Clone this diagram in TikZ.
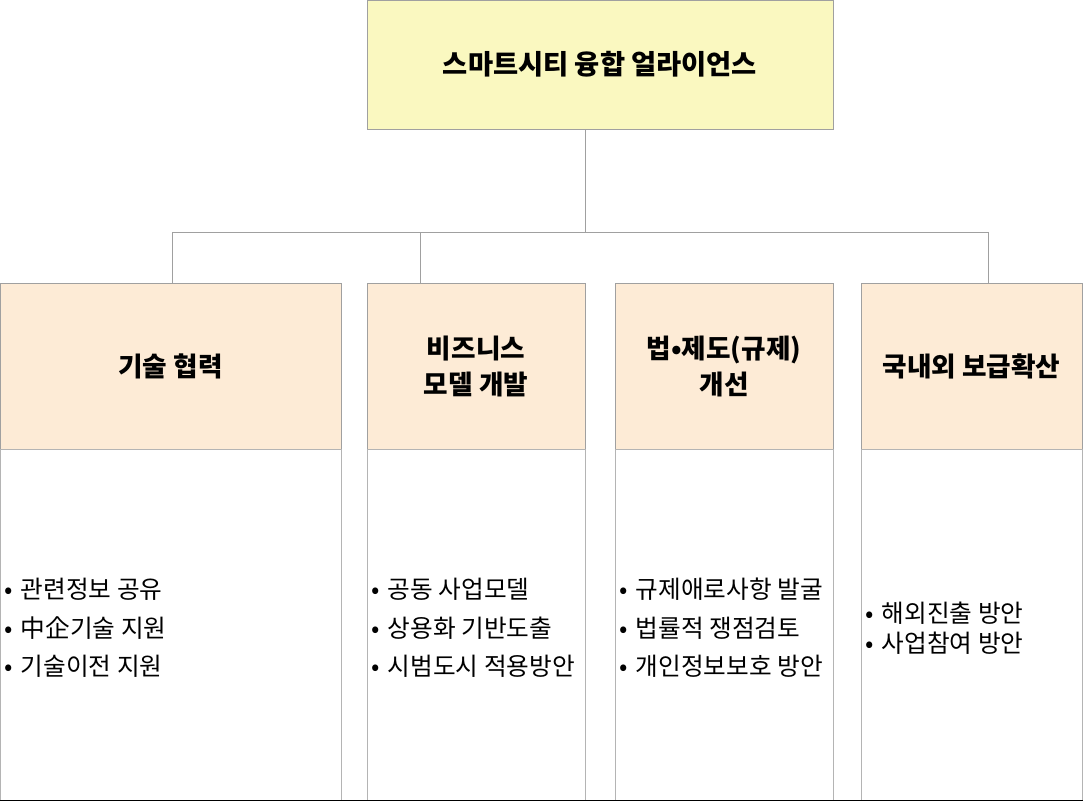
\documentclass[tikz,border=0pt]{standalone}
\usepackage{fontspec}
\setmainfont{Noto Sans CJK KR}
\definecolor{titlefill}{HTML}{FAF8C0}
\definecolor{headfill}{HTML}{FDEBD6}
\definecolor{boxline}{HTML}{A0A0A0}
\definecolor{bodyline}{HTML}{B4B4B4}
\definecolor{baseline}{HTML}{808080}

\def \itm {•\hspace{6pt}}

\tikzset{
  titlebox/.style={draw=boxline, fill=titlefill, line width=.75pt, minimum width=349.5pt, minimum height=96.75pt, font=\fontsize{20.5}{24}\selectfont\bfseries},
  headbox/.style={draw=boxline, fill=headfill, line width=.75pt, minimum height=124.5pt, align=center, font=\fontsize{20}{27}\selectfont\bfseries},
  bodybox/.style={draw=bodyline, line width=.75pt, minimum height=263.25pt},
  listtext/.style={anchor=west, inner sep=0pt, align=left, font=\fontsize{18.5}{29}\selectfont},
}

\begin{document}
\begin{tikzpicture}[x=.75pt, y=-.75pt]
\useasboundingbox (0,0) rectangle (1083,803);

\node[titlebox](top) at(600,64.5) {스마트시티 융합 얼라이언스};

\begin{scope}[every node/.append style={headbox}]
\node[minimum width=255.75pt](h1) at(170.5,366) {기술 협력};
\node[minimum width=163.5pt](h2) at(476,366) {비즈니스\\모델 개발};
\node[minimum width=163.5pt](h3) at(724,366) {법•제도(규제)\\개선};
\node[minimum width=165.75pt](h4) at(971.5,366) {국내외 보급확산};
\end{scope}

\begin{scope}[every node/.append style={bodybox}]
\node[minimum width=255.75pt](b1) at(170.5,624.5) {};
\node[minimum width=163.5pt](b2) at(476,624.5) {};
\node[minimum width=163.5pt](b3) at(724,624.5) {};
\node[minimum width=165.75pt](b4) at(971.5,624.5) {};
\end{scope}

\node[listtext](l1) at([xshift=3.5pt, yshift=-2.6pt]b1.west) {\itm 관련정보 공유\\\itm 中企기술 지원\\\itm 기술이전 지원};
\node[listtext](l2) at([xshift=3.5pt, yshift=-2.6pt]b2.west) {\itm 공동 사업모델\\\itm 상용화 기반도출\\\itm 시범도시 적용방안};
\node[listtext](l3) at([xshift=3.5pt, yshift=-2.6pt]b3.west) {\itm 규제애로사항 발굴\\\itm 법률적 쟁점검토\\\itm 개인정보보호 방안};
\node[listtext, font=\fontsize{18.5}{22.5}\selectfont](l4) at([xshift=3.5pt, yshift=-2.6pt]b4.west) {\itm 해외진출 방안\\\itm 사업참여 방안};

\coordinate(j) at(585,232);
\coordinate(c1) at(172,232);
\coordinate(c2) at(420,232);
\coordinate(c4) at(988,232);

\begin{scope}[draw=boxline, line width=.75pt]
\draw (top.south -| j) -- (j);
\draw (c1) -- (c4);
\draw (c1) -- (c1 |- h1.north);
\draw (c2) -- (c2 |- h2.north);
\draw (c4) -- (c4 |- h4.north);
\end{scope}

\draw[baseline, line width=.75pt] (b1.south west) -- (b4.south east);

\end{tikzpicture}
\end{document}
